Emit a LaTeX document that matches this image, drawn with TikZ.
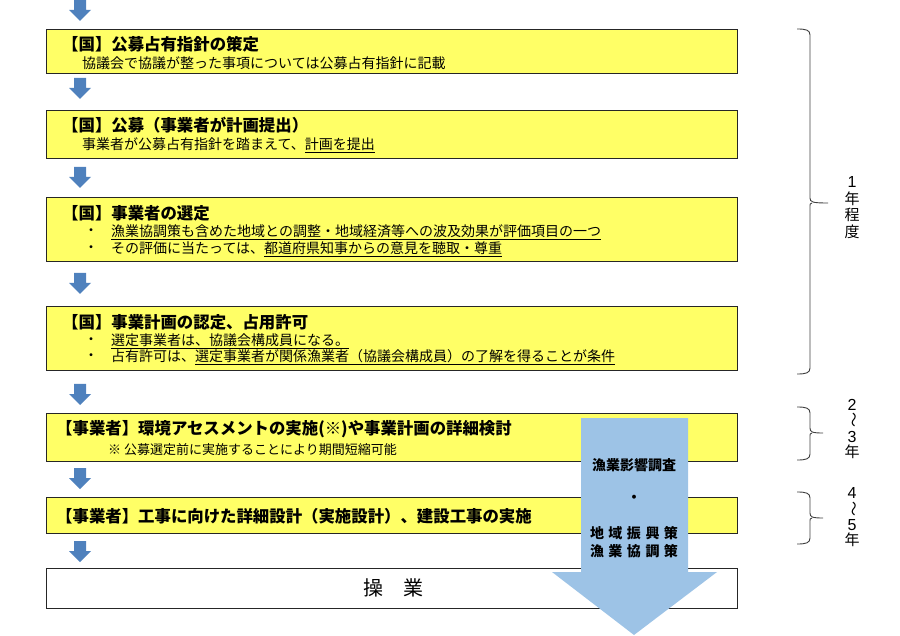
\documentclass[tikz,border=0pt]{standalone}
\usepackage{fontspec}
\setmainfont{Noto Sans CJK JP}
\newfontfamily\digitfont{Liberation Sans}
\definecolor{yfill}{RGB}{255,255,102}
\definecolor{ablue}{RGB}{79,129,189}
\definecolor{lblue}{RGB}{157,195,230}
\newcommand\uln[1]{\underline{#1}}
\newcommand\tbrace[4]{%
  \draw[brc] (797,#1) .. controls (806,#1) and (810,#1+1) .. (810,#1+6) -- (810,#2-5) .. controls (810,#2-1) and (812,#2) .. (#4,#2);
  \draw[brc] (812,#2) .. controls (810,#2) and (810,#2+1) .. (810,#2+5) -- (810,#3-6) .. controls (810,#3-1) and (806,#3) .. (797,#3);}
\tikzset{
  ybox/.style={draw=black!85, line width=1pt, fill=yfill, anchor=north west, minimum width=691pt, inner sep=0pt},
  wbox/.style={ybox, fill=white},
  ttl/.style={anchor=west, inner sep=0pt, font=\bfseries\fontsize{16.4}{18}\selectfont},
  sub/.style={anchor=west, inner sep=0pt, font=\fontsize{14}{16}\selectfont},
  smallsub/.style={anchor=west, inner sep=0pt, font=\fontsize{13}{15}\selectfont},
  vtxt/.style={inner sep=0pt, font=\fontsize{15}{16}\selectfont},
  vdig/.style={inner sep=0pt, font=\digitfont\fontsize{16}{17}\selectfont},
  atxt/.style={inner sep=0pt, font=\bfseries\fontsize{14}{16}\selectfont},
  brc/.style={draw=black!75, line width=0.9pt},
  darrow/.pic={\fill[ablue] (-6,0) -- (6,0) -- (6,10) -- (11,10) -- (0,21) -- (-11,10) -- (-6,10) -- cycle;}
}
\begin{document}
\begin{tikzpicture}[x=1pt,y=-1pt]
\useasboundingbox (0,0) rectangle (900,636);
% boxes
\node[ybox, minimum height=44pt] (b1) at (46,29) {};
\node[ybox, minimum height=48pt] (b2) at (46,110) {};
\node[ybox, minimum height=64pt] (b3) at (46,197) {};
\node[ybox, minimum height=64pt] (b4) at (46,306) {};
\node[ybox, minimum height=48pt] (b5) at (46,413) {};
\node[ybox, minimum height=36pt] (b6) at (46,497) {};
\node[wbox, minimum height=40pt] (b7) at (46,568) {};
% small arrows
\pic (a0) at (80,0) {darrow};
\pic (a1) at (80,78) {darrow};
\pic (a2) at (80,167) {darrow};
\pic (a3) at (80,273) {darrow};
\pic (a4) at (80,384) {darrow};
\pic (a5) at (80,468) {darrow};
\pic (a6) at (80,541) {darrow};
% texts
\node[ttl] (t1) at (62,44) {【国】公募占有指針の策定};
\node[sub] (s1) at (82,63) {協議会で協議が整った事項については公募占有指針に記載};
\node[ttl] (t2) at (62,125) {【国】公募（事業者が計画提出）};
\node[sub] (s2) at (82,145) {事業者が公募占有指針を踏まえて、\uln{計画を提出}};
\node[ttl] (t3) at (62,213) {【国】事業者の選定};
\node[sub] (d31) at (84,232) {・};
\node[sub] (s31) at (111,232) {\uln{漁業協調策も含めた地域との調整・地域経済等への波及効果が評価項目の一つ}};
\node[sub] (d32) at (84,249) {・};
\node[sub] (s32) at (111,249) {その評価に当たっては、\uln{都道府県知事からの意見を聴取・尊重}};
\node[ttl] (t4) at (62,322) {【国】事業計画の認定、占用許可};
\node[sub] (d41) at (84,341) {・};
\node[sub] (s41) at (111,341) {\uln{選定事業者は、協議会構成員になる。}};
\node[sub] (d42) at (84,357) {・};
\node[sub] (s42) at (111,357) {占有許可は、\uln{選定事業者が関係漁業者（協議会構成員）の了解を得ることが条件}};
\node[ttl] (t5) at (56,429) {【事業者】環境アセスメントの実施(※)や事業計画の詳細検討};
\node[smallsub] (s5) at (108,450) {※ 公募選定前に実施することにより期間短縮可能};
\node[ttl] (t6) at (56,516) {【事業者】工事に向けた詳細設計（実施設計）、建設工事の実施};
\node[inner sep=0pt, font=\fontsize{20}{22}\selectfont] (t7) at (393,588) {操　業};
% big arrow
\fill[lblue] (581,418) -- (688,418) -- (688,572) -- (717,572) -- (634,635) -- (552,572) -- (581,572) -- cycle;
\node[atxt] (g1) at (634,465) {漁業影響調査};
\node[atxt] (g2) at (634,499) {・};
\node[atxt] (g3) at (634,533) {地\hspace{4.5pt}域\hspace{4.5pt}振\hspace{4.5pt}興\hspace{4.5pt}策};
\node[atxt] (g4) at (634,551) {漁\hspace{4.5pt}業\hspace{4.5pt}協\hspace{4.5pt}調\hspace{4.5pt}策};
% braces
\tbrace{29}{203}{374}{828}
\tbrace{407}{433}{460}{823}
\tbrace{492}{518}{544}{823}
% brace labels
\node[vdig] (y1a) at (852,182) {1};
\node[vtxt] (y1b) at (852,199) {年};
\node[vtxt] (y1c) at (852,215) {程};
\node[vtxt] (y1d) at (852,232) {度};
\node[vdig] (y2a) at (852,405) {2};
\node[vtxt, rotate=-90] (y2b) at (852,420) {～};
\node[vdig] (y2c) at (852,437) {3};
\node[vtxt] (y2d) at (852,452) {年};
\node[vdig] (y3a) at (852,493) {4};
\node[vtxt, rotate=-90] (y3b) at (852,509) {～};
\node[vdig] (y3c) at (852,525) {5};
\node[vtxt] (y3d) at (852,540) {年};
\end{tikzpicture}
\end{document}
